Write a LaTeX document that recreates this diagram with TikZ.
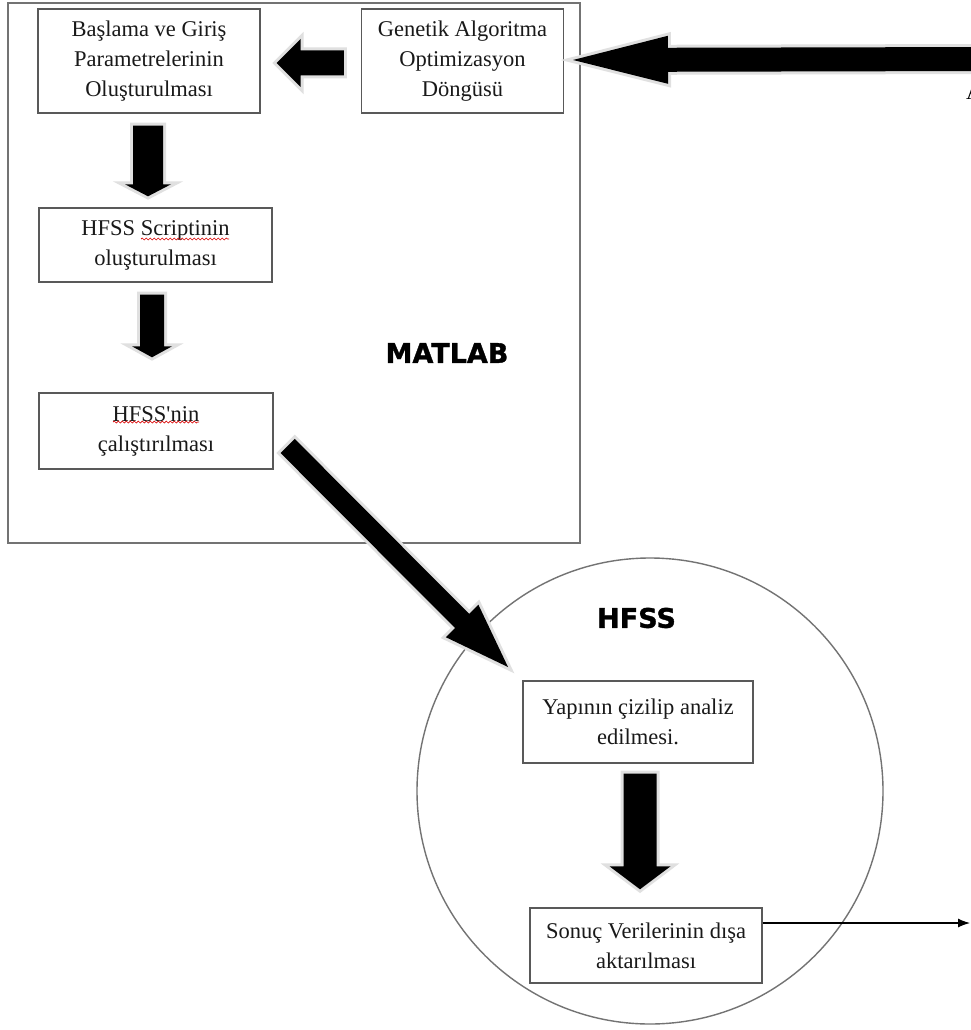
\documentclass[tikz,border=0pt]{standalone}
\usepackage{fontspec}
\setmainfont{Liberation Serif}
\newfontfamily\labelfont{DejaVu Sans}[BoldFeatures={FakeBold=1.3}]
\usetikzlibrary{calc,arrows.meta,decorations.pathmorphing}

\tikzset{
  stage/.style={draw=black!65, line width=1.4pt, fill=white, inner sep=0pt,
    align=center, text=black!90, font=\fontsize{22.5}{30}\selectfont},
  region/.style={draw=black!55, line width=1.4pt},
  regionlabel/.style={font=\labelfont\bfseries\fontsize{27}{30}\selectfont, inner sep=0pt},
  blockfill/.style={fill=black, preaction={draw=black!12, line width=6pt, line join=miter}},
  spell/.style={draw=red!85!black, line width=0.7pt, decorate,
    decoration={snake, amplitude=1pt, segment length=4pt}},
  thinarrow/.style={draw=black, line width=1.2pt, -{Latex[length=12pt,width=9pt]}},
}

% block arrow: #1 tail, #2 tip, #3 half shaft width, #4 half head width, #5 head length
\newcommand\flowarrow[5]{%
  \coordinate (fa-base) at ($(#2)!#5!(#1)$);
  \path[blockfill]
    ($(#1)!#3!90:(#2)$) -- ($(fa-base)!#3!90:(#2)$) -- ($(fa-base)!#4!90:(#2)$)
    -- (#2)
    -- ($(fa-base)!#4!-90:(#2)$) -- ($(fa-base)!#3!-90:(#2)$) -- ($(#1)!#3!-90:(#2)$)
    -- cycle;
}

\begin{document}
\begin{tikzpicture}[x=1pt, y=-1pt]
  \useasboundingbox (0,0) rectangle (971,1030);
  \fill[white] (0,0) rectangle (971,1030);

  % the two environments
  \node[region, minimum width=572pt, minimum height=540pt, inner sep=0pt] (matlab) at (294,273) {};
  \node[region, circle, minimum size=466pt, inner sep=0pt] (hfss) at (650,791) {};
  \node[regionlabel] (matlablabel) at (447,353) {MATLAB};
  \node[regionlabel] (hfsslabel) at (636.5,618) {HFSS};

  % process steps
  \node[stage, minimum width=222pt, minimum height=104pt] (start) at (149,61)
    {Başlama ve Giriş\\Parametrelerinin\\Oluşturulması};
  \node[stage, minimum width=202pt, minimum height=104pt] (ga) at (462.5,61)
    {Genetik Algoritma\\Optimizasyon\\Döngüsü};
  \node[stage, minimum width=233pt, minimum height=74pt] (script) at (155.5,245)
    {HFSS Scriptinin\\oluşturulması};
  \node[stage, minimum width=234pt, minimum height=76pt] (run) at (156,431)
    {HFSS\textquotesingle nin\\çalıştırılması};
  \node[stage, minimum width=230pt, minimum height=82pt] (analyse) at (638,722)
    {Yapının çizilip analiz\\edilmesi.};
  \node[stage, minimum width=232pt, minimum height=75pt] (export) at (646,945.5)
    {Sonuç Verilerinin dışa\\aktarılması};

  % spelling marks under the underlined words
  \draw[spell] (141,239) -- (229,239);
  \draw[spell] (113,422) -- (199,422);

  % arrow ends
  \coordinate (loop-in) at (990,59);
  \coordinate (loop-tip) at (573,60);
  \coordinate (ga-out) at ($(ga.west)+(-17,2)$);
  \coordinate (start-in) at ($(start.east)+(16,2)$);
  \coordinate (s1-tail) at ($(start.south)+(-1,12)$);
  \coordinate (s1-tip) at ($(script.north)+(-7.5,-11)$);
  \coordinate (s2-tail) at ($(script.south)+(-3.5,12)$);
  \coordinate (s2-tip) at ($(run.north)+(-4,-35)$);
  \coordinate (d-tail) at ($(run.east)+(14,15)$);
  \coordinate (d-tip) at (508,667);
  \coordinate (s3-tail) at ($(analyse.south)+(2,10)$);
  \coordinate (s3-tip) at ($(export.north)+(-6,-18)$);
  \coordinate (out) at (970,923);

  % block arrows
  \flowarrow{loop-in}{loop-tip}{12pt}{24pt}{95pt}
  \flowarrow{ga-out}{start-in}{12.5pt}{24pt}{24pt}
  \flowarrow{s1-tail}{s1-tip}{15pt}{23pt}{12pt}
  \flowarrow{s2-tail}{s2-tip}{12pt}{20pt}{11pt}
  \flowarrow{d-tail}{d-tip}{10pt}{23pt}{65pt}
  \flowarrow{s3-tail}{s3-tip}{16.5pt}{30.5pt}{23pt}

  % results leave the loop
  \draw[thinarrow] (export.east |- out) -- (out);

  % lettering cut at the right border
  \begin{scope}
    \clip (0,0) rectangle (971,1030);
    \node[anchor=west, inner sep=0pt, font=\fontsize{22.5}{30}\selectfont] (cut) at (966,92) {A};
  \end{scope}
\end{tikzpicture}
\end{document}
